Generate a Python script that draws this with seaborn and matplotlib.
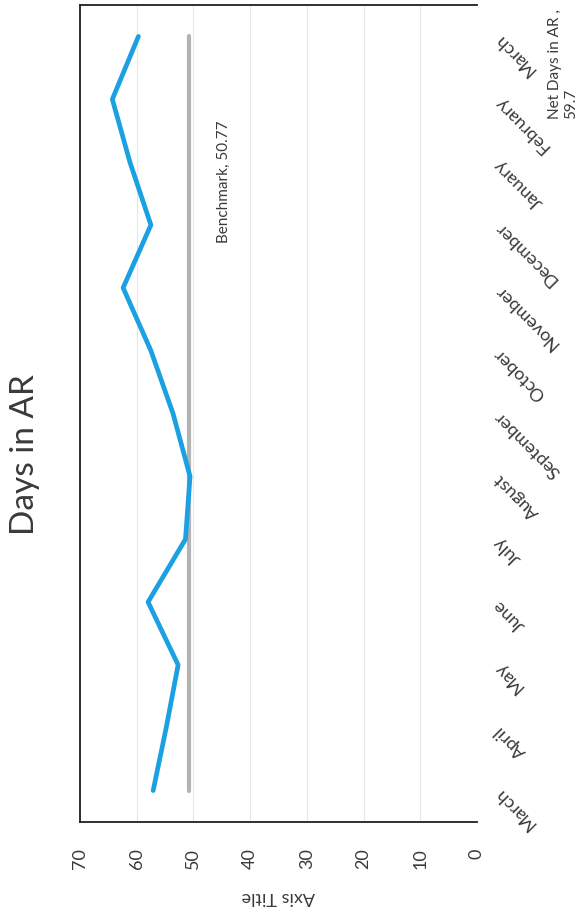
import numpy as np
import pandas as pd
import seaborn as sns
import matplotlib.pyplot as plt

# chart is drawn turned a quarter turn: values run along the bottom, months up the right
months = ['March', 'April', 'May', 'June', 'July', 'August', 'September',
          'October', 'November', 'December', 'January', 'February', 'March']
net_days = [57.1, 54.8, 52.7, 58.0, 51.4, 50.6, 53.6, 57.5, 62.4, 57.5, 61.2, 64.3, 59.7]
benchmark = [50.77] * len(months)
value_ticks = [0, 10, 20, 30, 40, 50, 60, 70]

sns.set_theme(style='white')
plt.rcParams['font.family'] = ['Lato', 'DejaVu Sans']

df = pd.DataFrame({
    'pos': np.arange(len(months)),
    'net': net_days,
    'bench': benchmark,
})

fig = plt.figure(figsize=(5.82, 9.09), dpi=100)
ax = fig.add_axes([80 / 582, 1 - 822 / 909, 397 / 582, 817 / 909])

sns.lineplot(data=df, x='bench', y='pos', orient='y', sort=False,
             color='#b3b3b3', linewidth=3.0, ax=ax, zorder=2)
sns.lineplot(data=df, x='net', y='pos', orient='y', sort=False,
             color='#1ba1e2', linewidth=3.4, ax=ax, zorder=3)

ax.set_xlim(70, 0)
ax.set_ylim(-0.5, len(months) - 0.5)
ax.set_xticks(value_ticks)
ax.set_yticks(df['pos'])
ax.set_yticklabels(months)

ax.grid(axis='x', color='#e6e6e6', linewidth=0.8)
ax.grid(axis='y', visible=False)
for side in ['left', 'top', 'bottom']:
    ax.spines[side].set_color('#202020')
    ax.spines[side].set_linewidth(1.3)
ax.spines['right'].set_visible(False)

ax.tick_params(axis='x', length=0, pad=19, labelsize=13, labelcolor='#3a3a3a',
               labelrotation=90)
ax.tick_params(axis='y', length=0, pad=14, labelsize=13, labelcolor='#3a3a3a',
               left=False, right=False, labelleft=False, labelright=True)
plt.setp(ax.get_yticklabels(), rotation=135, ha='right', va='center',
         rotation_mode='anchor')

ax.set_xlabel('Axis Title', fontsize=13, color='#3a3a3a', rotation=180, labelpad=14)
ax.set_ylabel('')

# data labels
ax.annotate('Benchmark, 50.77', xy=(benchmark[10], 10), xytext=(25, -14),
            textcoords='offset points', rotation=90, ha='center', va='center',
            fontsize=11, color='#3a3a3a')
ax.annotate('Net Days in AR ,\n59.7', xy=(net_days[-1], len(months) - 1),
            xytext=(306, -20), textcoords='offset points', rotation=90,
            ha='center', va='center', multialignment='left',
            fontsize=11, color='#3a3a3a', annotation_clip=False)

fig.text(25 / 582, 1 - 455 / 909, 'Days in AR', rotation=90, ha='center',
         va='center', fontsize=24, color='#3a3a3a')

fig.savefig('out.png', dpi=100)
